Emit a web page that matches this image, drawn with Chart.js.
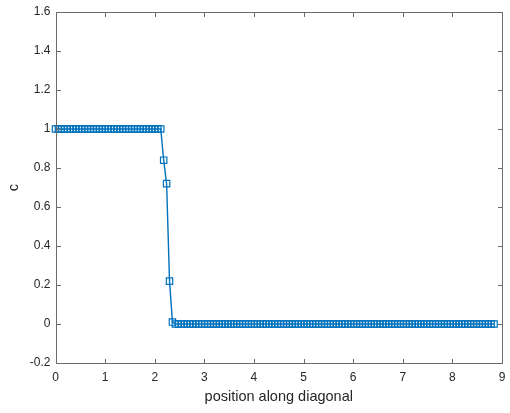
<!DOCTYPE html>
<html>
<head>
    <title>c along diagonal</title>
    <script src="https://cdn.jsdelivr.net/npm/chart.js"></script>
    <style>
        html, body { margin: 0; padding: 0; background: #fff; }
        #wrap { width: 510px; height: 413px; }
    </style>
    <script>
        // sample grid along the diagonal (151 samples, 0 .. 8.84)
        const diagLength = 8.84;
        const sampleCount = 151;

        // concentration c at each sample
        const cValues = [
            1, 1, 1, 1, 1, 1, 1, 1, 1, 1,
            1, 1, 1, 1, 1, 1, 1, 1, 1, 1,
            1, 1, 1, 1, 1, 1, 1, 1, 1, 1,
            1, 1, 1, 1, 1, 1, 1,
            0.84, 0.72, 0.22, 0.01,
            0, 0, 0, 0, 0, 0, 0, 0, 0, 0,
            0, 0, 0, 0, 0, 0, 0, 0, 0, 0,
            0, 0, 0, 0, 0, 0, 0, 0, 0, 0,
            0, 0, 0, 0, 0, 0, 0, 0, 0, 0,
            0, 0, 0, 0, 0, 0, 0, 0, 0, 0,
            0, 0, 0, 0, 0, 0, 0, 0, 0, 0,
            0, 0, 0, 0, 0, 0, 0, 0, 0, 0,
            0, 0, 0, 0, 0, 0, 0, 0, 0, 0,
            0, 0, 0, 0, 0, 0, 0, 0, 0, 0,
            0, 0, 0, 0, 0, 0, 0, 0, 0, 0,
            0, 0, 0, 0, 0, 0, 0, 0, 0, 0
        ];

        const xTicks = [0, 1, 2, 3, 4, 5, 6, 7, 8, 9];
        const yTicks = [-0.2, 0, 0.2, 0.4, 0.6, 0.8, 1, 1.2, 1.4, 1.6];

        const axisColor = '#262626';
        const boxColor = '#6b6b6b';
        const lineBlue = '#0072BD';

        // MATLAB style box with inward ticks on all four sides
        const boxPlugin = {
            id: 'matlabBox',
            afterDatasetsDraw(chart) {
                const ctx = chart.ctx;
                const xs = chart.scales.x, ys = chart.scales.y;
                const L = Math.round(xs.getPixelForValue(0)) + 0.5;
                const R = Math.round(xs.getPixelForValue(9)) + 0.5;
                const T = Math.round(ys.getPixelForValue(1.6)) + 0.5;
                const B = Math.round(ys.getPixelForValue(-0.2)) + 0.5;
                const tl = 4.5;
                ctx.save();
                ctx.strokeStyle = boxColor;
                ctx.lineWidth = 1;
                ctx.beginPath();
                ctx.rect(L, T, R - L, B - T);
                xTicks.forEach(v => {
                    const px = Math.round(xs.getPixelForValue(v)) + 0.5;
                    ctx.moveTo(px, B); ctx.lineTo(px, B - tl);
                    ctx.moveTo(px, T); ctx.lineTo(px, T + tl);
                });
                yTicks.forEach(v => {
                    const py = Math.round(ys.getPixelForValue(v)) + 0.5;
                    ctx.moveTo(L, py); ctx.lineTo(L + tl, py);
                    ctx.moveTo(R, py); ctx.lineTo(R - tl, py);
                });
                ctx.stroke();
                ctx.restore();
            }
        };

        function drawChart() {
            const ctx = document.getElementById('cChart').getContext('2d');
            const step = diagLength / (sampleCount - 1);
            const points = cValues.map((c, i) => ({ x: i * step, y: c }));

            new Chart(ctx, {
                type: 'line',
                data: {
                    datasets: [{
                        label: 'c',
                        data: points,
                        borderColor: lineBlue,
                        borderWidth: 1.4,
                        backgroundColor: 'rgba(0,0,0,0)',
                        pointStyle: 'rect',
                        pointRadius: 4.5,
                        pointBorderWidth: 1.2,
                        pointBorderColor: lineBlue,
                        pointBackgroundColor: 'rgba(0,0,0,0)',
                        tension: 0,
                        clip: false
                    }]
                },
                options: {
                    responsive: false,
                    animation: false,
                    events: [],
                    layout: { padding: { top: 12, right: 8, left: 0, bottom: 0 } },
                    plugins: {
                        legend: { display: false },
                        tooltip: { enabled: false }
                    },
                    scales: {
                        x: {
                            type: 'linear',
                            min: 0,
                            max: 9,
                            afterFit: s => { s.height = 50; s.paddingLeft = 0; s.paddingRight = 0; },
                            afterBuildTicks: s => { s.ticks = xTicks.map(v => ({ value: v })); },
                            grid: { display: false, drawTicks: false },
                            border: { display: false },
                            ticks: {
                                color: axisColor,
                                padding: 7,
                                maxRotation: 0,
                                font: { family: 'Liberation Sans', size: 12 },
                                callback: v => String(v)
                            },
                            title: {
                                display: true,
                                text: 'position along diagonal',
                                color: axisColor,
                                font: { family: 'Liberation Sans', size: 14.5 },
                                padding: { top: 2, bottom: 7 }
                            }
                        },
                        y: {
                            type: 'linear',
                            min: -0.2,
                            max: 1.6,
                            afterFit: s => { s.width = 55.5; s.paddingTop = 0; s.paddingBottom = 0; },
                            afterBuildTicks: s => { s.ticks = yTicks.map(v => ({ value: v })); },
                            grid: { display: false, drawTicks: false },
                            border: { display: false },
                            ticks: {
                                color: axisColor,
                                padding: 5,
                                font: { family: 'Liberation Sans', size: 12 },
                                callback: v => String(Number(v.toFixed(1)))
                            },
                            title: {
                                display: true,
                                text: 'c',
                                color: axisColor,
                                font: { family: 'Liberation Sans', size: 14.5 },
                                padding: { top: 5, bottom: 2 }
                            }
                        }
                    }
                },
                plugins: [boxPlugin]
            });
        }
        document.addEventListener('DOMContentLoaded', drawChart);
    </script>
</head>
<body>
    <div id="wrap">
        <canvas id="cChart" width="510" height="413"></canvas>
    </div>
</body>
</html>
